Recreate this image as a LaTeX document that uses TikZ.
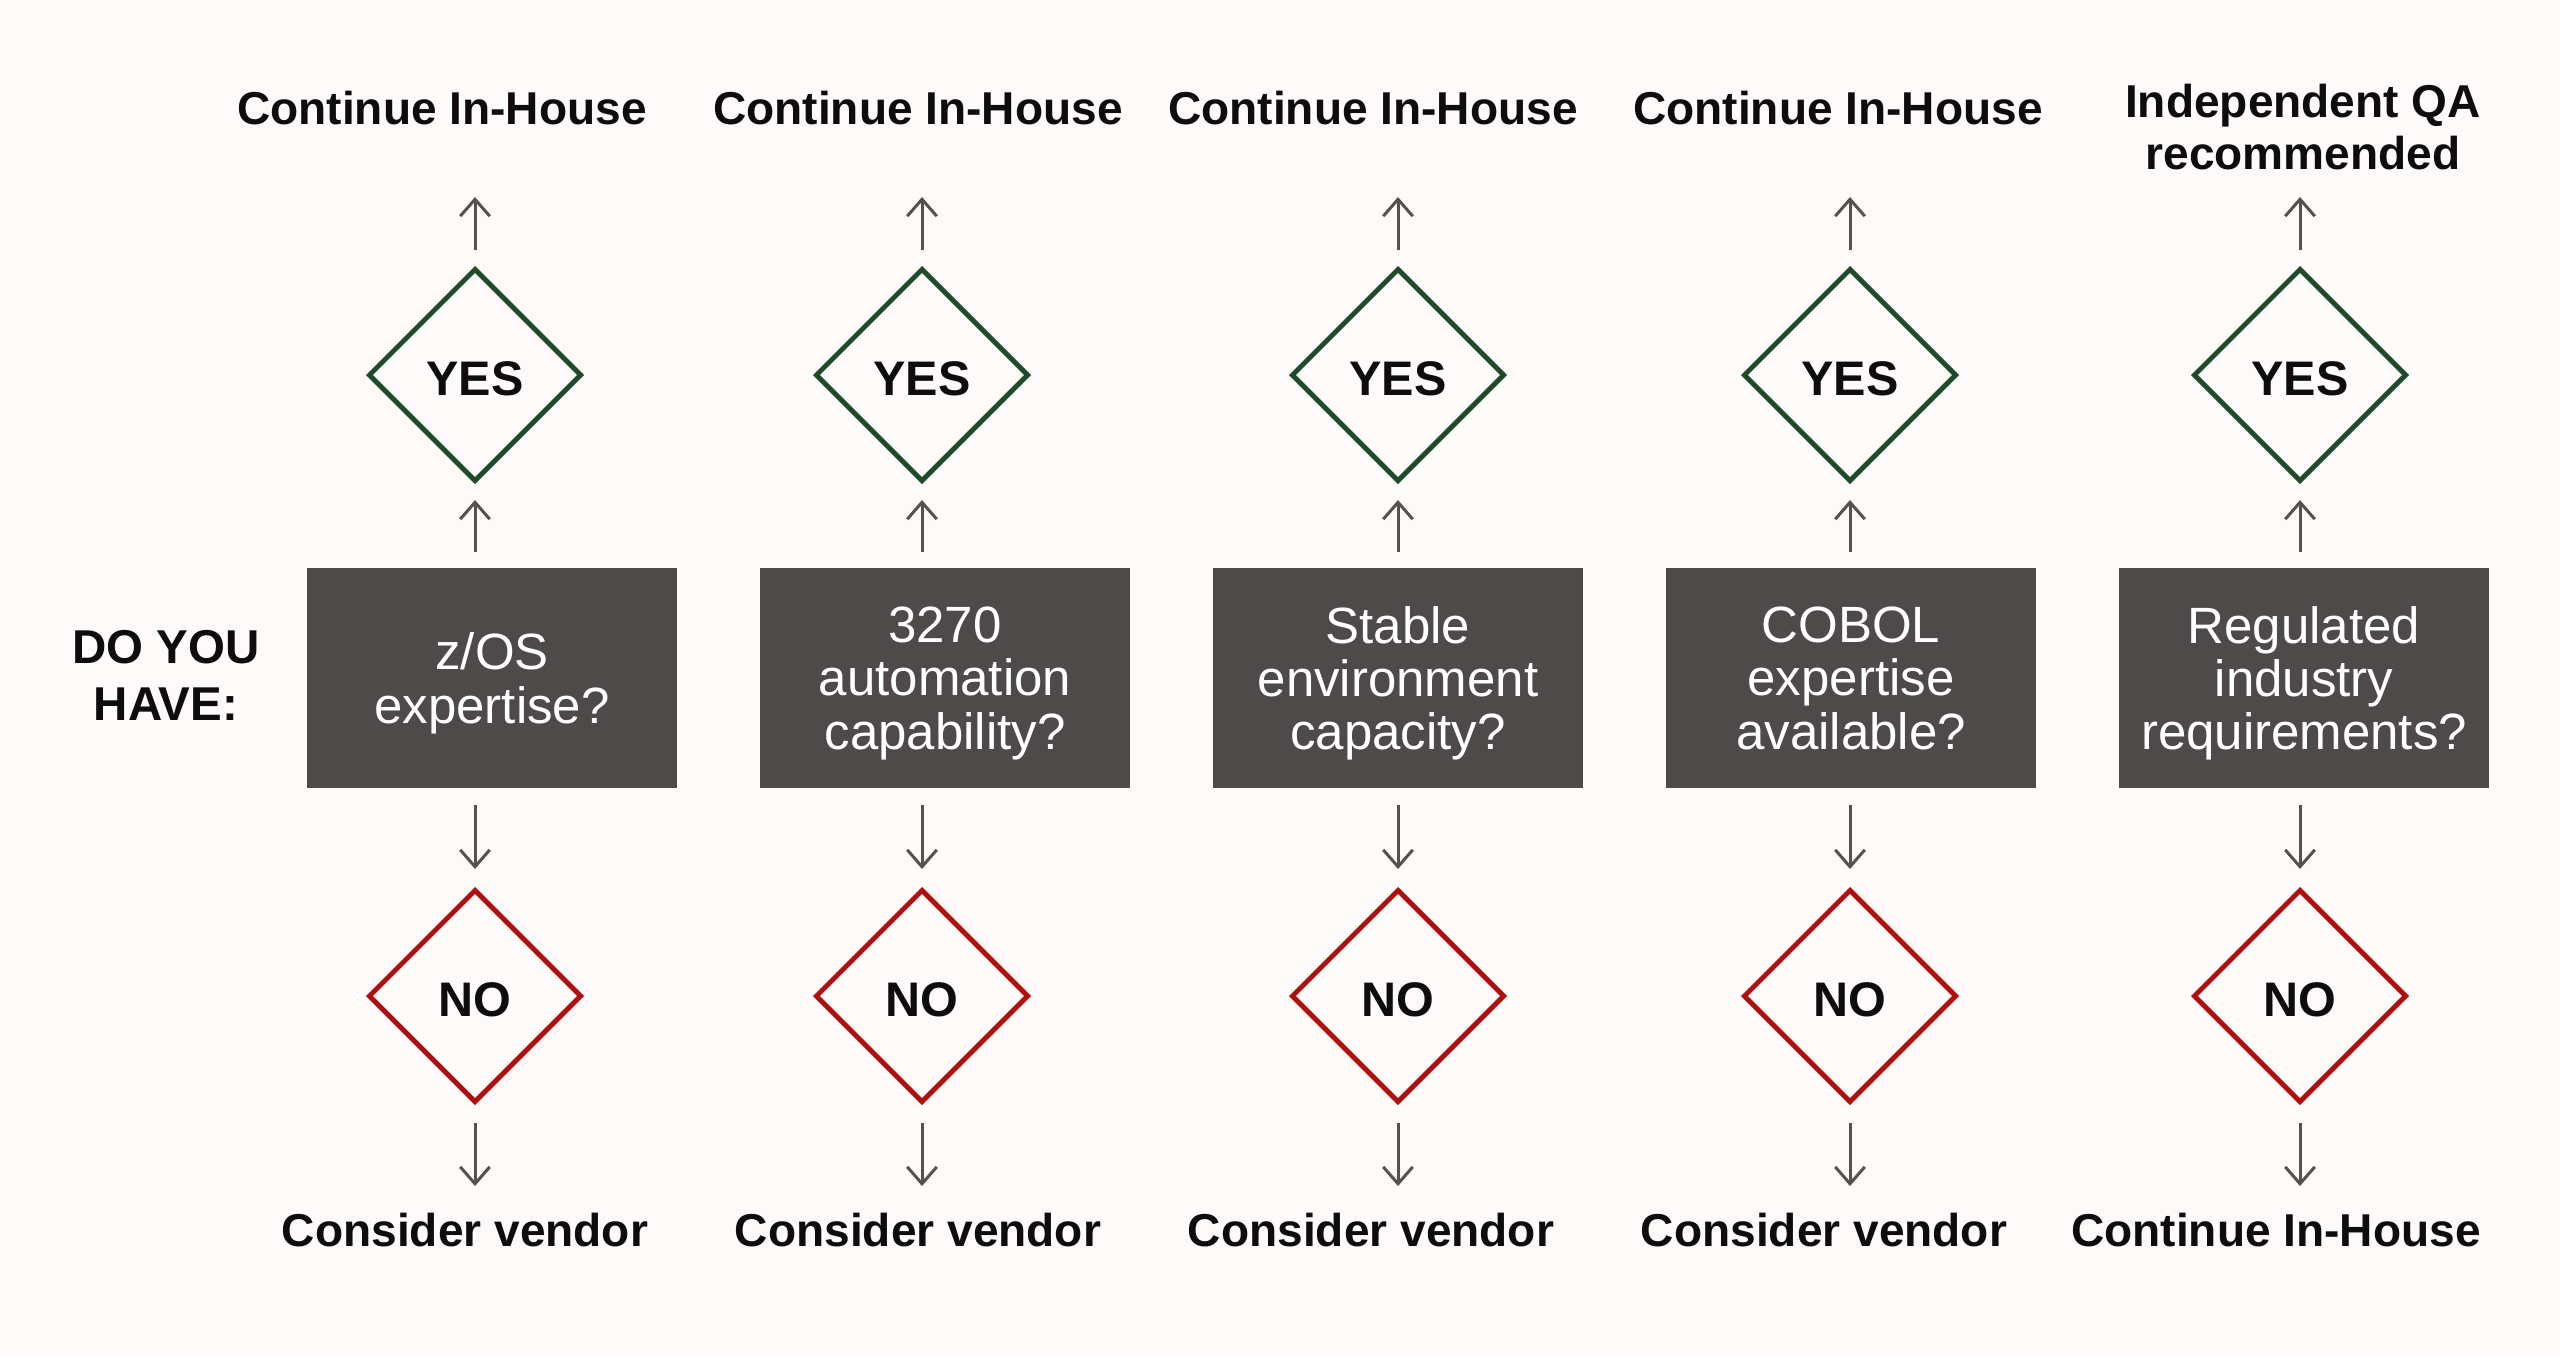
\documentclass[tikz,border=0pt]{standalone}
\usepackage{fontspec}
\setmainfont{Liberation Sans}
\usetikzlibrary{arrows.meta,positioning,shapes.geometric}
\definecolor{paper}{HTML}{FDFAF9}
\definecolor{slab}{HTML}{4F4A4A}
\definecolor{yesc}{HTML}{1F4A2C}
\definecolor{noc}{HTML}{AE1010}
\definecolor{wire}{HTML}{555151}
\definecolor{ink}{HTML}{0D0D0D}
\tikzset{
  qbox/.style={fill=slab,text=white,minimum width=3.69cm,minimum height=2.19cm,
    inner sep=0pt,align=center,text depth=0pt,font=\fontsize{14.5}{15.2}\selectfont},
  gate/.style={diamond,aspect=1,minimum width=2.13cm,minimum height=2.13cm,inner sep=0pt,
    line width=1.4pt,text=ink,text height=11.8pt,text depth=0pt,
    font=\fontsize{13.8}{15}\selectfont\bfseries},
  yesd/.style={gate,draw=yesc},
  nod/.style={gate,draw=noc},
  outc/.style={inner sep=0pt,align=center,text=ink,font=\fontsize{13.1}{15}\selectfont\bfseries},
  flow/.style={-{Straight Barb[length=4.8pt,width=8.4pt]},line width=0.85pt,color=wire},
}

\begin{document}
\begin{tikzpicture}[x=0.01cm,y=-0.01cm]
  \fill[paper] (0,0) rectangle (2560,1356);
  \useasboundingbox (0,0) rectangle (2560,1356);
  % row label
  \node[outc,font=\fontsize{13.5}{16.2}\selectfont\bfseries] (ask) at (166,675) {DO YOU\\HAVE:};
  % question boxes
  \node[qbox] (b1) at (492,678)  {z/OS\\expertise?};
  \node[qbox] (b2) at (945,678)  {3270\\automation\\capability?};
  \node[qbox] (b3) at (1398,678) {Stable\\environment\\capacity?};
  \node[qbox] (b4) at (1851,678) {COBOL\\expertise\\available?};
  \node[qbox] (b5) at (2304,678) {Regulated\\industry\\requirements?};
  % yes / no gates
  \foreach \i/\x in {1/475,2/922,3/1398,4/1850,5/2300}{%
    \node[yesd] (y\i) at (\x,375) {YES};
    \node[nod]  (n\i) at (\x,996) {NO};
    \coordinate (u\i) at (\x,197);
    \coordinate (d\i) at (\x,1186);}
  % outcomes above
  \node[outc,anchor=base] (t1) at (442,124)  {Continue In-House};
  \node[outc,anchor=base] (t2) at (918,124)  {Continue In-House};
  \node[outc,anchor=base] (t3) at (1373,124) {Continue In-House};
  \node[outc,anchor=base] (t4) at (1838,124) {Continue In-House};
  \node[outc] (t5) at (2303,127) {Independent QA\\recommended};
  % outcomes below
  \node[outc,anchor=base] (c1) at (465,1246)  {Consider vendor};
  \node[outc,anchor=base] (c2) at (918,1246)  {Consider vendor};
  \node[outc,anchor=base] (c3) at (1371,1246) {Consider vendor};
  \node[outc,anchor=base] (c4) at (1824,1246) {Consider vendor};
  \node[outc,anchor=base] (c5) at (2276,1246) {Continue In-House};
  % arrows
  \foreach \i in {1,...,5}{%
    \draw[flow,shorten <=0.16cm] (y\i.north) -- (u\i);
    \draw[flow,shorten <=0.16cm,shorten >=0.16cm] (y\i.south |- b\i.north) -- (y\i.south);
    \draw[flow,shorten <=0.17cm,shorten >=0.18cm] (n\i.north |- b\i.south) -- (n\i.north);
    \draw[flow,shorten <=0.18cm] (n\i.south) -- (d\i);}
\end{tikzpicture}
\end{document}
